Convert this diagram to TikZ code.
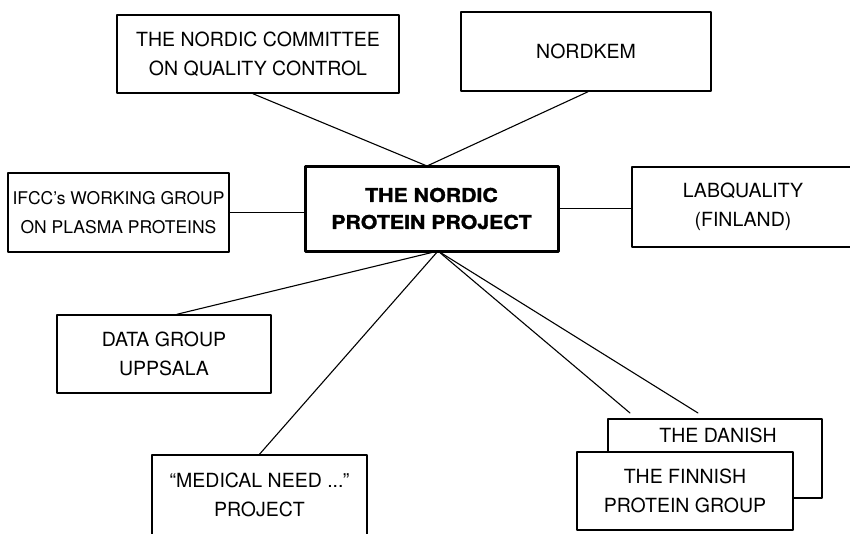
\documentclass[tikz,border=0pt]{standalone}
\usepackage{fontspec}
\setmainfont{TeX Gyre Heros}
\newfontfamily\heavyfont[FakeStretch=1.12,FakeBold=1.6]{TeX Gyre Heros}
\begin{document}
\begin{tikzpicture}[x=1pt,y=-1pt,line cap=round,line join=round,
  box/.style={draw,line width=1.5pt,fill=white,align=center,inner sep=0pt,
    font=\fontsize{19.5}{29}\selectfont},
  link/.style={line width=1.1pt}]
  \useasboundingbox (0,0) rectangle (850,533);
  \clip (0,0) rectangle (850,533);
  \coordinate (hubtop) at (427,166);
  \coordinate (hubbot) at (438,251);
  \coordinate (endA) at (630,413);
  \coordinate (endB) at (698,413);
  \node[box,minimum width=282pt,minimum height=78pt] (committee) at (258,54)
    {THE NORDIC COMMITTEE\\ON QUALITY CONTROL};
  \node[box,minimum width=250pt,minimum height=79pt] (nordkem) at (586,51.5) {NORDKEM};
  \node[box,minimum width=221pt,minimum height=79pt,font=\fontsize{17.5}{29}\selectfont] (ifcc) at (118.5,212.5)
    {IFCC's WORKING GROUP\\ON PLASMA PROTEINS};
  \node[box,line width=3pt,minimum width=253pt,minimum height=85pt,
    font=\heavyfont\bfseries\fontsize{19}{27}\selectfont] (npp) at (431.5,208.5)
    {THE NORDIC\\PROTEIN PROJECT};
  \node[box,minimum width=222pt,minimum height=80pt] (labq) at (743,207) {LABQUALITY\\(FINLAND)};
  \node[box,minimum width=214pt,minimum height=78pt] (uppsala) at (164,354) {DATA GROUP\\UPPSALA};
  \node[box,minimum width=215pt,minimum height=80pt] (medneed) at (259.5,495)
    {“MEDICAL NEED ...”\\PROJECT};
  \node[box,minimum width=214pt,minimum height=79pt] (danish) at (715,458.5) {};
  \node[font=\fontsize{19.5}{29}\selectfont] (danishtext) at ([xshift=3pt,yshift=-17pt]danish.north) {THE DANISH};
  \node[box,minimum width=216pt,minimum height=78pt] (finnish) at (685,491)
    {THE FINNISH\\PROTEIN GROUP};
  \draw[link] ([xshift=-5pt]committee.south) -- (hubtop) -- ([xshift=2pt]nordkem.south);
  \draw[link] (ifcc.east) -- (npp.west |- ifcc.east);
  \draw[link] (npp.east) -- (labq.west |- npp.east);
  \draw[link] ([xshift=13pt]uppsala.north) -- (hubbot);
  \draw[link] (medneed.north) -- (hubbot);
  \draw[link] (hubbot) -- (endA);
  \draw[link] (hubbot) -- (endB);
\end{tikzpicture}
\end{document}
